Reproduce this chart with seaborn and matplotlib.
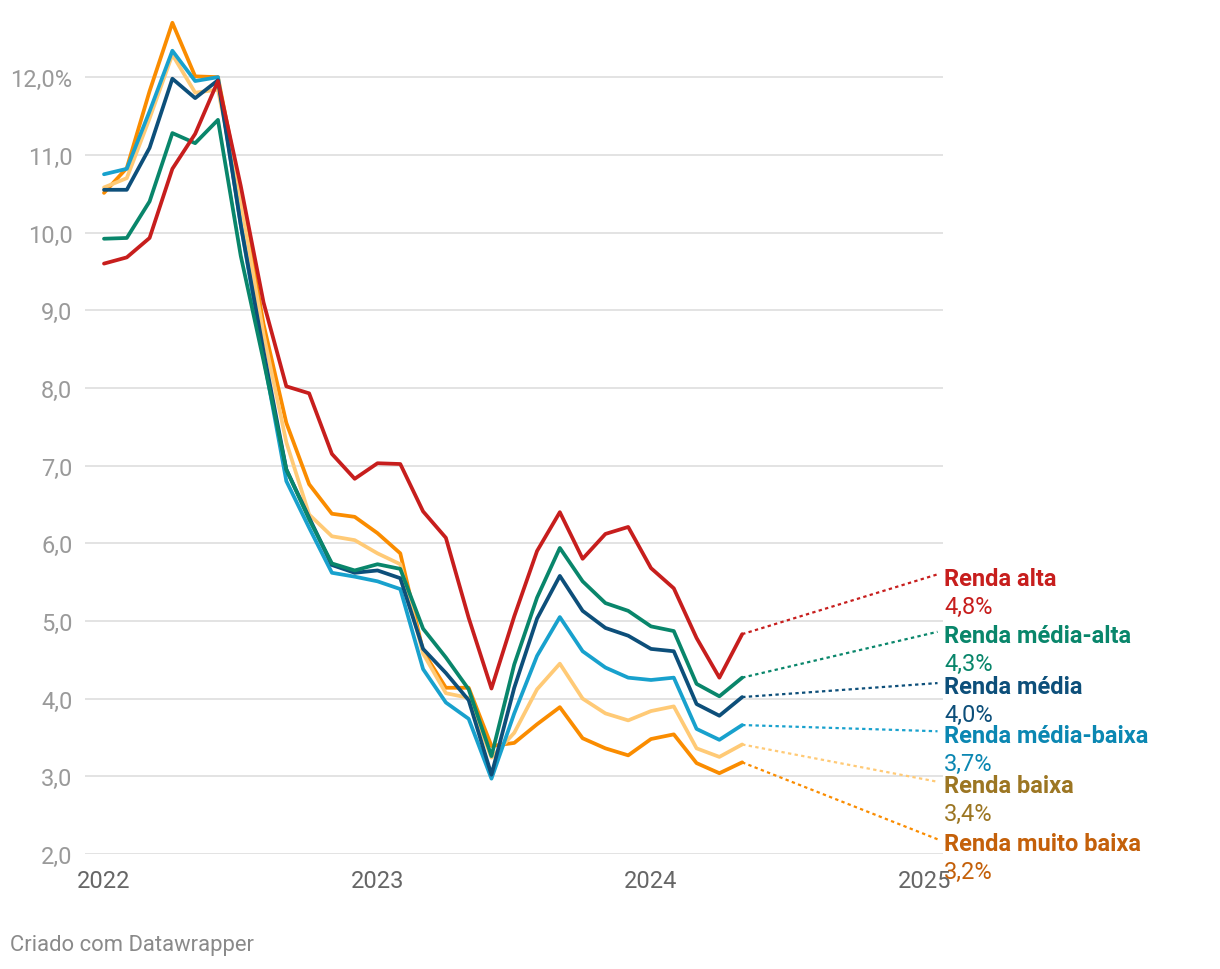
import numpy as np
import pandas as pd
import matplotlib
matplotlib.use("Agg")
import matplotlib.pyplot as plt
import seaborn as sns

# dados mensais, jan/2022 a mai/2024
meses = pd.date_range("2022-01-01", periods=29, freq="MS")

renda_alta = [9.60, 9.68, 9.93, 10.82, 11.27, 11.95, 10.60, 9.10, 8.02, 7.93,
              7.15, 6.83, 7.03, 7.02, 6.41, 6.07, 5.04, 4.13, 5.06, 5.90,
              6.40, 5.80, 6.12, 6.21, 5.68, 5.42, 4.78, 4.27, 4.83]
renda_media_alta = [9.92, 9.93, 10.40, 11.28, 11.15, 11.45, 9.70, 8.35, 6.95, 6.31,
                    5.74, 5.65, 5.73, 5.67, 4.90, 4.53, 4.12, 3.26, 4.44, 5.30,
                    5.94, 5.51, 5.23, 5.13, 4.93, 4.87, 4.19, 4.03, 4.27]
renda_media = [10.55, 10.55, 11.09, 11.98, 11.73, 11.96, 10.10, 8.47, 6.95, 6.33,
               5.72, 5.62, 5.65, 5.55, 4.64, 4.33, 3.98, 3.02, 4.14, 5.03,
               5.58, 5.13, 4.91, 4.81, 4.64, 4.61, 3.93, 3.78, 4.02]
renda_media_baixa = [10.75, 10.82, 11.56, 12.34, 11.95, 12.00, 10.10, 8.40, 6.80, 6.20,
                     5.62, 5.57, 5.51, 5.41, 4.38, 3.95, 3.74, 2.97, 3.81, 4.55,
                     5.05, 4.61, 4.40, 4.27, 4.24, 4.27, 3.61, 3.47, 3.66]
renda_baixa = [10.58, 10.70, 11.47, 12.29, 11.80, 11.84, 10.40, 8.69, 7.30, 6.37,
               6.09, 6.04, 5.87, 5.73, 4.58, 4.07, 4.01, 3.24, 3.56, 4.12,
               4.45, 4.00, 3.81, 3.72, 3.84, 3.90, 3.36, 3.25, 3.41]
renda_muito_baixa = [10.51, 10.83, 11.82, 12.70, 12.01, 12.00, 10.50, 8.82, 7.55, 6.76,
                     6.38, 6.34, 6.13, 5.87, 4.61, 4.14, 4.14, 3.39, 3.43, 3.67,
                     3.89, 3.49, 3.36, 3.27, 3.48, 3.54, 3.17, 3.04, 3.18]

grupos = ["Renda alta", "Renda média-alta", "Renda média",
          "Renda média-baixa", "Renda baixa", "Renda muito baixa"]
valores_finais = ["4,8%", "4,3%", "4,0%", "3,7%", "3,4%", "3,2%"]
anos = [2022, 2023, 2024, 2025]
y_ticks = [2, 3, 4, 5, 6, 7, 8, 9, 10, 11, 12]

series = [renda_alta, renda_media_alta, renda_media,
          renda_media_baixa, renda_baixa, renda_muito_baixa]

cores_linha = ["#c71e1d", "#09866b", "#0d4f7a", "#18a1cd", "#ffca76", "#fa8c00"]
cores_texto = ["#c71e1d", "#09866b", "#0d4f7a", "#0b87b2", "#9c7623", "#c4600a"]
# altura (em dados) onde cada rótulo da direita fica
rotulo_y = [5.60, 4.86, 4.20, 3.58, 2.93, 2.19]

ano_dec = meses.year + (meses.month - 1) / 12
df = pd.concat([
    pd.DataFrame({"ano": ano_dec, "taxa": s, "grupo": g})
    for g, s in zip(grupos, series)
])

sns.set_theme(style="white")
plt.rcParams["font.family"] = ["Roboto", "DejaVu Sans"]

fig = plt.figure(figsize=(12.2, 9.7), dpi=100)
ax = fig.add_axes([85 / 1220, 115 / 970, 858 / 1220, 839 / 970])

ordem_desenho = ["Renda muito baixa", "Renda baixa", "Renda média-baixa",
                 "Renda média", "Renda média-alta", "Renda alta"]
sns.lineplot(data=df, x="ano", y="taxa", hue="grupo", hue_order=ordem_desenho,
             palette=dict(zip(grupos, cores_linha)), linewidth=2.7,
             estimator=None, sort=False, legend=False, ax=ax)
for ln in ax.lines:
    ln.set_solid_capstyle("round")
    ln.set_solid_joinstyle("round")

x0 = 2022 - 19 / 273.5
x1 = 2022 + 839 / 273.5
ax.set_xlim(x0, x1)
ax.set_ylim(2.0, 12.8)

ax.set_yticks(y_ticks)
ax.set_yticklabels([f"{v},0%" if v == 12 else f"{v},0" for v in y_ticks])
ax.set_xticks(anos)
ax.set_xticklabels([str(a) for a in anos])
ax.grid(axis="y", color="#e3e3e3", linewidth=1.4)
ax.grid(axis="x", visible=False)
ax.set_axisbelow(True)
for sp in ax.spines.values():
    sp.set_visible(False)
ax.tick_params(axis="y", length=0, pad=9, labelsize=17, labelcolor="#9a9a9a")
ax.tick_params(axis="x", length=0, pad=10.5, labelsize=17, labelcolor="#666666")
ax.set_xlabel("")
ax.set_ylabel("")

# conectores pontilhados e rótulos à direita
x_ult = ano_dec[-1]
for s, nome, val, cl, ct, yl in zip(series, grupos, valores_finais,
                                     cores_linha, cores_texto, rotulo_y):
    ax.plot([x_ult, x1 - 0.02], [s[-1], yl], color=cl, linewidth=1.6,
            linestyle=(0, (1.5, 1.5)), clip_on=False)
    ax.text(x1 + 0.005, yl - 0.05, nome, color=ct, fontsize=17,
            fontweight="bold", ha="left", va="center", clip_on=False)
    ax.text(x1 + 0.005, yl - 0.41, val, color=ct, fontsize=17,
            ha="left", va="center", clip_on=False)

fig.text(10 / 1220, 1 - 946 / 970, "Criado com Datawrapper", fontsize=15.8,
         color="#8a8a8a", ha="left", va="center")

plt.savefig("out.png", dpi=100)
